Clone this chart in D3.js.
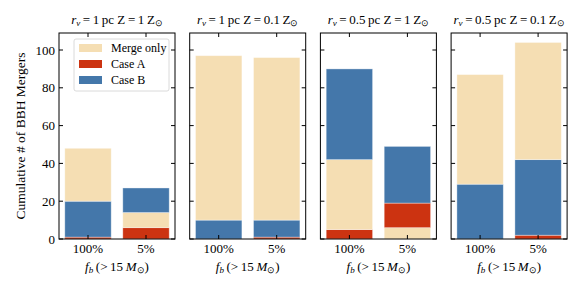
<!DOCTYPE html>
<html>
<head>
<meta charset="utf-8">
<script src="https://cdn.jsdelivr.net/npm/d3@7"></script>
</head>
<body style="margin:0;background:#fff">
<svg id="chart"></svg>
<script>
// panel titles
const radii = ['1', '1', '0.5', '0.5']
const metallicities = ['1', '0.1', '1', '0.1']

const categories = ['100%', '5%']
const series = ['Merge only', 'Case A', 'Case B']
const colors = ['#f5deb3', '#cc3311', '#4477aa']

// segment heights per panel, [100%, 5%]
const mergeOnly = [[28, 8], [87, 86], [37, 6], [58, 62]]
const caseA = [[1, 6], [0, 1], [5, 13], [0, 2]]
const caseB = [[19, 13], [10, 9], [48, 30], [29, 40]]

// stacking order from bottom (series index)
const stackOrder = [
  [[1, 2, 0], [1, 0, 2]],
  [[1, 2, 0], [1, 2, 0]],
  [[1, 0, 2], [0, 1, 2]],
  [[1, 2, 0], [1, 2, 0]]
]

const yTicks = [0, 20, 40, 60, 80, 100]

const width = 581
const height = 291
const margin = { top: 33, bottom: 52, left: 59 }
const panelW = 116
const panelStep = 130.7
const plotH = height - margin.top - margin.bottom
const font = 'Liberation Serif'

const svg = d3.select('#chart')
  .attr('width', width)
  .attr('height', height)
  .attr('font-family', font)
  .style('display', 'block')

const y = d3.scaleLinear().domain([0, 109]).range([margin.top + plotH, margin.top])
const x = d3.scaleBand().domain(categories).range([0, panelW]).paddingInner(0.2).paddingOuter(0.1)

const values = [mergeOnly, caseA, caseB]
const thin = '\u2009'

radii.forEach((r, p) => {
  const g = svg.append('g').attr('transform', `translate(${margin.left + p * panelStep},0)`)

  // bars
  categories.forEach((c, i) => {
    let base = 0
    stackOrder[p][i].forEach((s) => {
      const v = values[s][p][i]
      if (v > 0) {
        g.append('rect')
          .attr('x', x(c))
          .attr('width', x.bandwidth())
          .attr('y', y(base + v))
          .attr('height', y(base) - y(base + v))
          .attr('fill', colors[s])
          .attr('stroke', '#ffffff')
          .attr('stroke-opacity', 0.45)
          .attr('stroke-width', 0.8)
      }
      base += v
    })
  })

  // frame
  g.append('rect')
    .attr('x', 0)
    .attr('y', margin.top)
    .attr('width', panelW)
    .attr('height', plotH)
    .attr('fill', 'none')
    .attr('stroke', '#000')
    .attr('stroke-width', 1)

  // inward ticks on all sides
  const tl = 4
  g.selectAll('.yl').data(yTicks).join('line')
    .attr('x1', 0).attr('x2', tl)
    .attr('y1', (d) => y(d)).attr('y2', (d) => y(d))
    .attr('stroke', '#000')
  g.selectAll('.yr').data(yTicks).join('line')
    .attr('x1', panelW - tl).attr('x2', panelW)
    .attr('y1', (d) => y(d)).attr('y2', (d) => y(d))
    .attr('stroke', '#000')
  categories.forEach((c) => {
    const cx = x(c) + x.bandwidth() / 2
    g.append('line').attr('x1', cx).attr('x2', cx)
      .attr('y1', margin.top + plotH).attr('y2', margin.top + plotH - tl).attr('stroke', '#000')
    g.append('line').attr('x1', cx).attr('x2', cx)
      .attr('y1', margin.top).attr('y2', margin.top + tl).attr('stroke', '#000')
    g.append('text')
      .attr('x', cx)
      .attr('y', margin.top + plotH + 14)
      .attr('text-anchor', 'middle')
      .attr('font-size', 13)
      .text(c)
  })

  if (p === 0) {
    g.selectAll('.ylab').data(yTicks).join('text')
      .attr('x', -4)
      .attr('y', (d) => y(d) + 4.5)
      .attr('text-anchor', 'end')
      .attr('font-size', 13)
      .text((d) => d)
  }

  // title
  const t = g.append('text')
    .attr('x', panelW / 2)
    .attr('y', 24)
    .attr('text-anchor', 'middle')
    .attr('font-size', 13)
  t.append('tspan').attr('font-style', 'italic').text('r')
  t.append('tspan').attr('font-style', 'italic').attr('font-size', 9).attr('dy', 2).text('v')
  t.append('tspan').attr('dy', -2).text(`${thin}=${thin}${r}${thin}pc Z${thin}=${thin}${metallicities[p]}${thin}Z`)
  t.append('tspan').attr('font-size', 9).attr('dy', 2).text('⊙')

  // x label
  const xl = g.append('text')
    .attr('x', panelW / 2)
    .attr('y', margin.top + plotH + 32)
    .attr('text-anchor', 'middle')
    .attr('font-size', 13)
  xl.append('tspan').attr('font-style', 'italic').text('f')
  xl.append('tspan').attr('font-style', 'italic').attr('font-size', 9).attr('dy', 2).text('b')
  xl.append('tspan').attr('dy', -2).text(`${thin}(>${thin}15${thin}`)
  xl.append('tspan').attr('font-style', 'italic').text('M')
  xl.append('tspan').attr('font-size', 9).attr('dy', 2).text('⊙')
  xl.append('tspan').attr('dy', -2).text(')')
})

// y axis label
svg.append('text')
  .attr('transform', `translate(25,${margin.top + plotH / 2}) rotate(-90)`)
  .attr('text-anchor', 'middle')
  .attr('font-size', 13.5)
  .text('Cumulative # of BBH Mergers')

// legend
const legend = svg.append('g').attr('transform', `translate(${margin.left + 15},39)`)
legend.append('rect')
  .attr('width', 95).attr('height', 52)
  .attr('rx', 2)
  .attr('fill', '#fff')
  .attr('fill-opacity', 0.8)
  .attr('stroke', '#d0d0d0')
  .attr('stroke-width', 0.8)
series.forEach((s, i) => {
  legend.append('rect')
    .attr('x', 5).attr('y', 5 + i * 16)
    .attr('width', 23).attr('height', 8)
    .attr('fill', colors[i])
  legend.append('text')
    .attr('x', 37).attr('y', 13 + i * 16)
    .attr('font-size', 12)
    .text(s)
})
</script>
</body>
</html>
